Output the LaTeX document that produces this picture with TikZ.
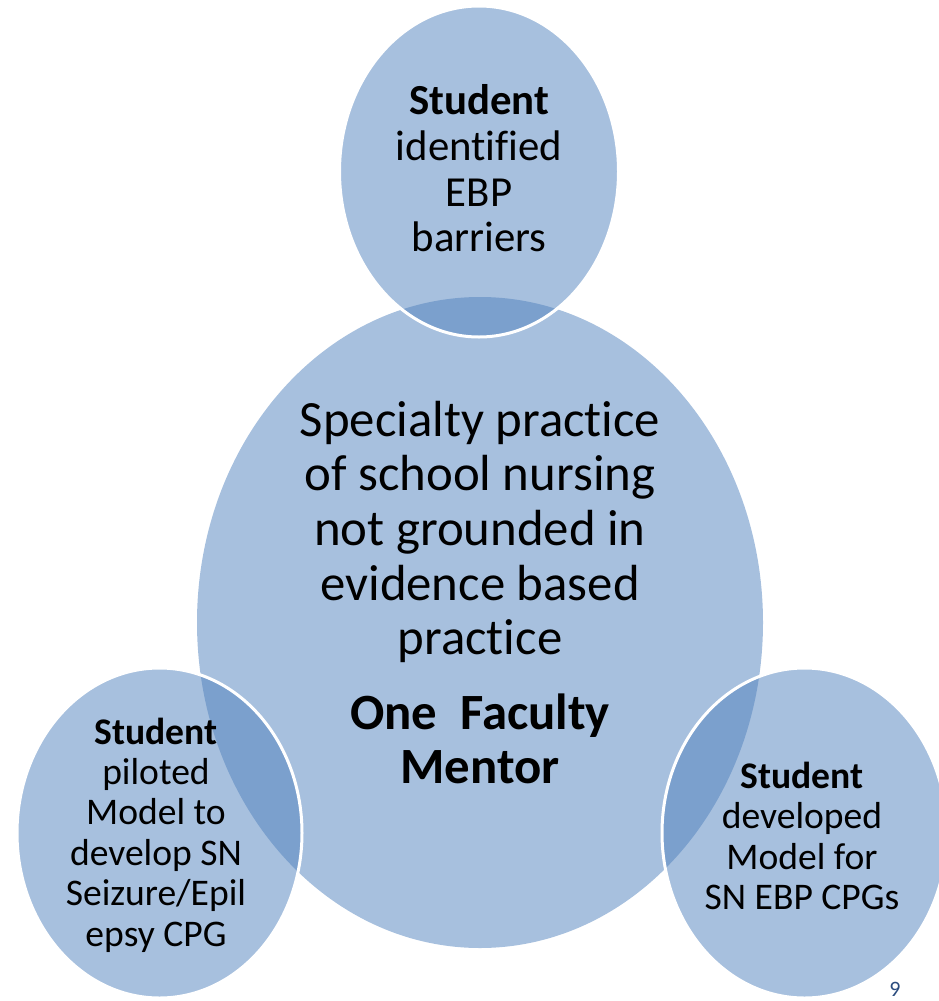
\documentclass[tikz,border=0pt]{standalone}
\usepackage{fontspec}
\setmainfont{Carlito}[Ligatures=NoCommon]
\definecolor{light}{HTML}{A7C0DE}
\definecolor{dark}{HTML}{7BA0CD}
\definecolor{pagenum}{HTML}{2B4C7E}
\tikzset{
  bubble/.style={fill=light},
  overlap/.style={fill=dark},
  rim/.style={draw=white, line width=3pt},
  bigtext/.style={inner sep=0pt, align=center, font=\fontsize{50.8}{54.7}\selectfont},
  toptext/.style={inner sep=0pt, align=center, font=\fontsize{42.8}{45.7}\selectfont},
  sidetext/.style={inner sep=0pt, align=center, font=\fontsize{37.6}{40.4}\selectfont},
}
\begin{document}
\begin{tikzpicture}[x=1pt,y=-1pt]
\useasboundingbox (0,0) rectangle (939,1001);
% main circle
\fill[bubble] (480,622.5) ellipse [x radius=283, y radius=325.5];
% satellite circles
\fill[bubble] (479,171.5) ellipse [x radius=139.5, y radius=165.5];
\fill[bubble] (159.5,833) ellipse [x radius=142.5, y radius=165];
\fill[bubble] (804.5,833) ellipse [x radius=142.5, y radius=165];
% overlaps
\begin{scope}
  \clip (480,622.5) ellipse [x radius=283, y radius=325.5];
  \fill[overlap] (479,171.5) ellipse [x radius=139.5, y radius=165.5];
  \fill[overlap] (159.5,833) ellipse [x radius=142.5, y radius=165];
  \fill[overlap] (804.5,833) ellipse [x radius=142.5, y radius=165];
\end{scope}
% white rims
\draw[rim] (479,171.5) ellipse [x radius=139.5, y radius=165.5];
\draw[rim] (159.5,833) ellipse [x radius=142.5, y radius=165];
\draw[rim] (804.5,833) ellipse [x radius=142.5, y radius=165];
% texts
\node[bigtext] (main) at (480,532) {Specialty practice\\of school nursing\\not grounded in\\evidence based\\practice};
\node[bigtext, font=\fontsize{50.8}{54.7}\selectfont\bfseries] (mentor) at (480,739) {One~~Faculty\\Mentor};
\node[toptext] (top) at (479,168.5) {\textbf{Student}\\identified\\EBP\\barriers};
\node[sidetext] (left) at (156,835) {\textbf{Student}\\piloted\\Model to\\develop SN\\Seizure/Epil\\epsy CPG};
\node[sidetext] (right) at (802,836) {\textbf{Student}\\developed\\Model for\\SN EBP CPGs};
\node[inner sep=0pt, anchor=base, text=pagenum, font=\fontsize{22}{26}\selectfont] (page) at (895,996) {9};
\end{tikzpicture}
\end{document}
